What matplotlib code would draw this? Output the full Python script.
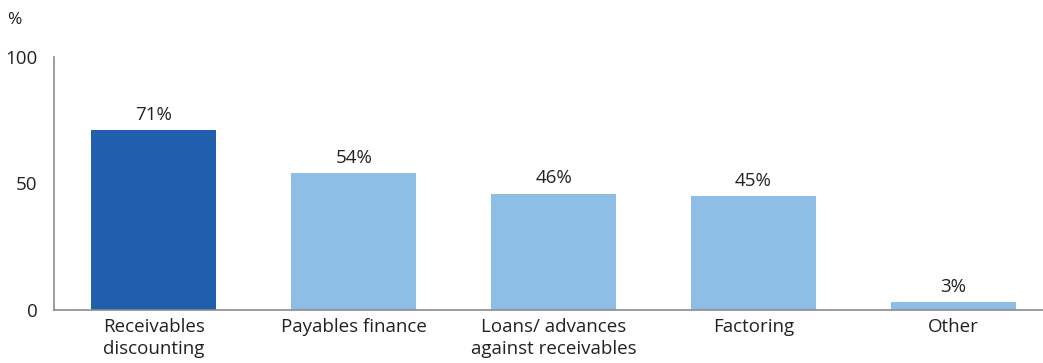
import matplotlib.pyplot as plt

categories = ["Receivables\ndiscounting", "Payables finance",
              "Loans/ advances\nagainst receivables", "Factoring", "Other"]
shares = [71, 54, 46, 45, 3]
bar_colors = ["#1f5fad", "#8ebde6", "#8ebde6", "#8ebde6", "#8ebde6"]

plt.rcParams["font.family"] = ["Open Sans", "DejaVu Sans"]
fs = 13.5

fig = plt.figure(figsize=(10.43, 3.63), dpi=100)
ax = fig.add_axes([0.0518, 0.146, 0.9482, 0.697])

x = range(len(categories))
bars = ax.bar(x, shares, width=0.625, color=bar_colors)
for bar, v in zip(bars, shares):
    ax.text(bar.get_x() + bar.get_width() / 2, v + 2.5, f"{v}%",
            ha="center", va="bottom", fontsize=fs, color="#222222")

ax.set_xlim(-0.5, 4.45)
ax.set_ylim(0, 100)
ax.set_yticks([0, 50, 100])
ax.set_xticks(list(x))
ax.set_xticklabels(categories, fontsize=fs, color="#222222", linespacing=1.25)
ax.tick_params(axis="y", length=0, pad=12, labelsize=fs, labelcolor="#222222")
ax.tick_params(axis="x", length=0, pad=6)

for side in ["top", "right"]:
    ax.spines[side].set_visible(False)
for side in ["left", "bottom"]:
    ax.spines[side].set_color("#8c8c8c")
    ax.spines[side].set_linewidth(1.2)

fig.text(0.007, 0.935, "%", fontsize=fs - 1, color="#222222")

fig.savefig("out.png", dpi=100)
